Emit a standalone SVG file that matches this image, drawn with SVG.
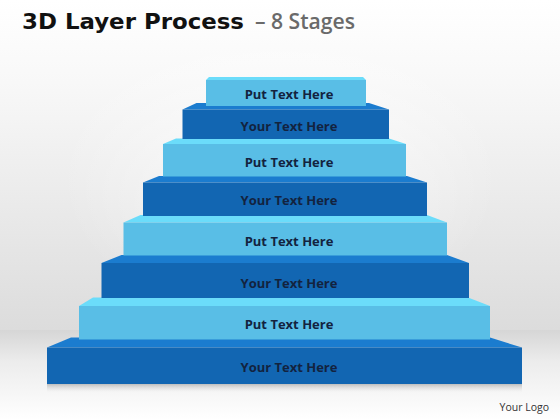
<svg xmlns="http://www.w3.org/2000/svg" width="560" height="420" viewBox="0 0 560 420">
<defs>
<linearGradient id="bg" x1="0" y1="0" x2="0" y2="1">
<stop offset="0" stop-color="#ffffff"/>
<stop offset="0.25" stop-color="#f8f8f8"/>
<stop offset="1" stop-color="#dcdcdc"/>
</linearGradient>
<linearGradient id="floor" x1="0" y1="0" x2="0" y2="1">
<stop offset="0" stop-color="#d6d6d6"/>
<stop offset="0.35" stop-color="#ececec"/>
<stop offset="1" stop-color="#ffffff"/>
</linearGradient>
<radialGradient id="glow" cx="0.5" cy="0.45" r="0.5">
<stop offset="0" stop-color="#ffffff" stop-opacity="0.7"/>
<stop offset="1" stop-color="#ffffff" stop-opacity="0"/>
</radialGradient>
<linearGradient id="shadow" x1="0" y1="0" x2="0" y2="1">
<stop offset="0" stop-color="#9a9a9a" stop-opacity="0.6"/>
<stop offset="1" stop-color="#ffffff" stop-opacity="0"/>
</linearGradient>
</defs>
<style>
.lf{fill:#59bee6}
.lt{fill:#6bdcfa}
.df{fill:#1266b2}
.dt{fill:#1b7ccf}
.lbl{font-family:"Open Sans","Liberation Sans",sans-serif;font-weight:bold;font-size:13px;fill:#13233f;text-anchor:middle}
</style>
<rect x="0" y="0" width="560" height="330" fill="url(#bg)"/>
<rect x="0" y="330" width="560" height="90" fill="url(#floor)"/>
<rect x="60" y="40" width="440" height="300" fill="url(#glow)"/>
<rect x="47" y="384" width="475" height="10" fill="url(#shadow)"/>
<g id="title">
<text x="22" y="28.5" font-family="'DejaVu Sans','Liberation Sans',sans-serif" font-weight="bold" font-size="21" fill="#111" textLength="222" lengthAdjust="spacingAndGlyphs">3D Layer Process</text>
<text x="255" y="28.5" font-family="'Open Sans','Liberation Sans',sans-serif" font-weight="600" font-size="21" fill="#6a6a6a" textLength="100" lengthAdjust="spacingAndGlyphs">– 8 Stages</text>
</g>
<g id="layer8">
<polygon class="dt" points="47,347.5 522,347.5 490,337.5 71,337.5"/>
<rect class="df" x="47" y="347.5" width="475" height="36.5"/>
<text class="lbl" x="289" y="371.5">Your Text Here</text>
</g>
<g id="layer7">
<polygon class="lt" points="79,306 490,306 468,297.5 93,297.5"/>
<rect class="lf" x="79" y="306" width="411" height="33.5"/>
<text class="lbl" x="289" y="328.5">Put Text Here</text>
</g>
<g id="layer6">
<polygon class="dt" points="101.5,263 469,263 447,255 121.5,255"/>
<rect class="df" x="101.5" y="263" width="367.5" height="35"/>
<text class="lbl" x="289" y="287.5">Your Text Here</text>
</g>
<g id="layer5">
<polygon class="lt" points="123.5,222.5 447,222.5 427,215 140.5,215"/>
<rect class="lf" x="123.5" y="222.5" width="323.5" height="33"/>
<text class="lbl" x="289" y="245.5">Put Text Here</text>
</g>
<g id="layer4">
<polygon class="dt" points="143,182.5 427,182.5 407,176 159,176"/>
<rect class="df" x="143" y="182.5" width="284" height="33.5"/>
<text class="lbl" x="289" y="204.5">Your Text Here</text>
</g>
<g id="layer3">
<polygon class="lt" points="163,144 406,144 389,138.5 176,138.5"/>
<rect class="lf" x="163" y="144" width="243" height="32.5"/>
<text class="lbl" x="289" y="166.5">Put Text Here</text>
</g>
<g id="layer2">
<polygon class="dt" points="182.5,109.5 389,109.5 369,103 196.5,103"/>
<rect class="df" x="182.5" y="109.5" width="206.5" height="29.5"/>
<text class="lbl" x="289" y="130.5">Your Text Here</text>
</g>
<g id="layer1">
<polygon class="lt" points="206,80 366,80 363,77 209,77"/>
<rect class="lf" x="206" y="80" width="160" height="26"/>
<text class="lbl" x="289" y="98.5">Put Text Here</text>
</g>
<g id="logo">
<text x="549" y="411" text-anchor="end" font-family="'Open Sans','Liberation Sans',sans-serif" font-size="10.5" fill="#333">Your Logo</text>
</g>
</svg>
